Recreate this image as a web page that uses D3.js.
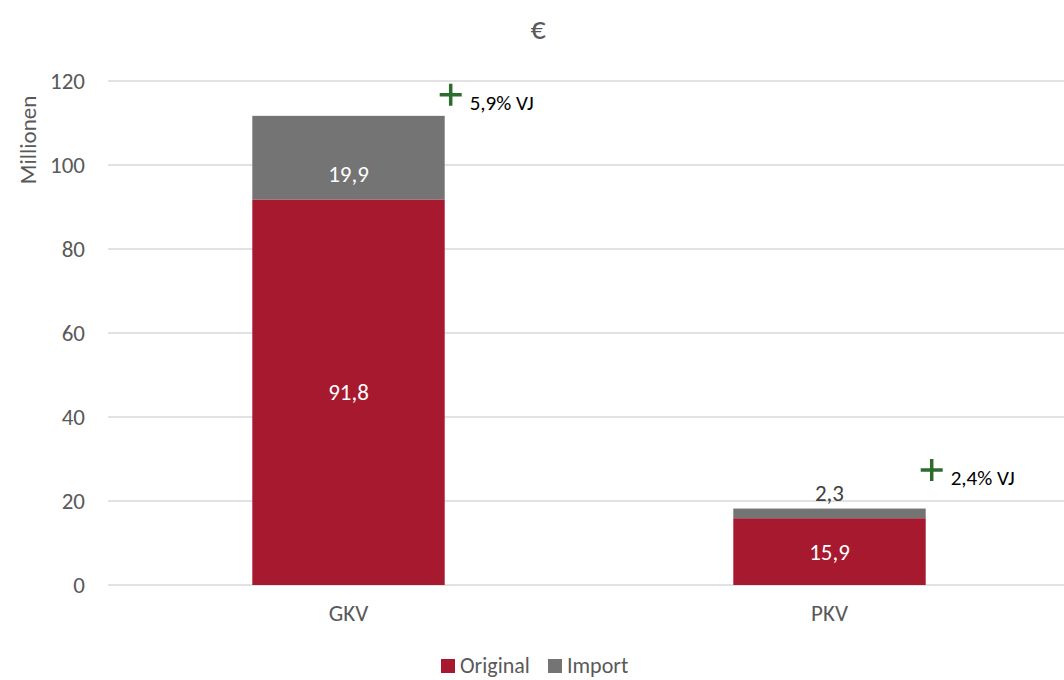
<!DOCTYPE html>
<html>
<head>
<meta charset="utf-8">
<script src="https://cdn.jsdelivr.net/npm/d3@7"></script>
<style>
  body { margin: 0; background: #fff; }
  svg { display: block; font-family: Carlito, Lato, "Open Sans", sans-serif; }
</style>
</head>
<body>
<svg width="1064" height="680"></svg>
<script>
var categories = ["GKV", "PKV"];
var originalValues = [91.8, 15.9];
var importValues = [19.9, 2.3];
var changeLabels = ["5,9% VJ", "2,4% VJ"];
var changeAnchor = [116.7, 27.4];   // value where the green plus sits
var yTicks = [0, 20, 40, 60, 80, 100, 120];
var seriesNames = ["Original", "Import"];
var colors = ["#A6192E", "#747474"];

var svg = d3.select("svg"),
    margin = {top: 81, right: -6, bottom: 95, left: 108},
    width = +svg.attr("width") - margin.left - margin.right,
    height = +svg.attr("height") - margin.top - margin.bottom,
    g = svg.append("g").attr("transform", "translate(" + margin.left + "," + margin.top + ")");

var fmt = function(v) { return String(v).replace(".", ","); };

var x = d3.scaleBand()
    .domain(categories)
    .range([0, width])
    .padding(0);

var y = d3.scaleLinear()
    .domain([0, 120])
    .range([height, 0]);

var barW = x.bandwidth() * 0.4;

// gridlines
g.append("g")
  .selectAll("line")
  .data(yTicks)
  .enter().append("line")
    .attr("x1", 0)
    .attr("x2", width)
    .attr("y1", function(d) { return y(d); })
    .attr("y2", function(d) { return y(d); })
    .attr("stroke", "#d9d9d9")
    .attr("stroke-width", 1.5);

// y axis labels
g.append("g")
    .call(d3.axisLeft(y).tickValues(yTicks).tickSize(0).tickPadding(23))
    .call(function(a) { a.select(".domain").remove(); })
    .selectAll("text")
    .attr("font-size", "23px")
    .attr("font-family", "Carlito, Lato, sans-serif")
    .attr("fill", "#595959");

// x axis labels
g.append("g")
    .attr("transform", "translate(0," + height + ")")
    .call(d3.axisBottom(x).tickSize(0).tickPadding(20))
    .call(function(a) { a.select(".domain").remove(); })
    .selectAll("text")
    .attr("font-size", "23px")
    .attr("font-family", "Carlito, Lato, sans-serif")
    .attr("fill", "#595959");

var rows = categories.map(function(c, i) {
  return {cat: c, orig: originalValues[i], imp: importValues[i], label: changeLabels[i], anchor: changeAnchor[i]};
});

var bars = g.selectAll(".bar").data(rows).enter().append("g")
    .attr("transform", function(d) { return "translate(" + (x(d.cat) + x.bandwidth() / 2 - barW / 2) + ",0)"; });

bars.append("rect")
    .attr("y", function(d) { return y(d.orig); })
    .attr("width", barW)
    .attr("height", function(d) { return y(0) - y(d.orig); })
    .attr("fill", colors[0]);

bars.append("rect")
    .attr("y", function(d) { return y(d.orig + d.imp); })
    .attr("width", barW)
    .attr("height", function(d) { return y(d.orig) - y(d.orig + d.imp); })
    .attr("fill", colors[1]);

bars.append("text")
    .attr("x", barW / 2)
    .attr("y", function(d) { return y(d.orig / 2); })
    .attr("dy", "0.35em")
    .attr("text-anchor", "middle")
    .attr("font-size", "23px")
    .attr("fill", "#fff")
    .text(function(d) { return fmt(d.orig); });

bars.append("text")
    .attr("x", barW / 2)
    .attr("y", function(d) {
      var h = y(d.orig) - y(d.orig + d.imp);
      return h > 30 ? y(d.orig + d.imp / 2) + 16 : y(d.orig + d.imp) - 16;
    })
    .attr("dy", "0.35em")
    .attr("text-anchor", "middle")
    .attr("font-size", "23px")
    .attr("fill", function(d) { return (y(d.orig) - y(d.orig + d.imp)) > 30 ? "#fff" : "#404040"; })
    .text(function(d) { return fmt(d.imp); });

// growth annotations
var ann = bars.append("g")
    .attr("transform", function(d) { return "translate(" + (barW - 5) + "," + y(d.anchor) + ")"; });

ann.append("path")
    .attr("d", "M0,0H22M11,-11V11")
    .attr("stroke", "#2E6B2E")
    .attr("stroke-width", 3.5);

ann.append("text")
    .attr("x", 30)
    .attr("y", 8)
    .attr("dy", "0.35em")
    .attr("font-size", "21px")
    .attr("fill", "#000")
    .text(function(d) { return d.label; });

// title
svg.append("text")
    .attr("x", 538)
    .attr("y", 28)
    .attr("dy", "0.35em")
    .attr("text-anchor", "middle")
    .attr("font-size", "30px")
    .attr("fill", "#595959")
    .text("€");

// y axis title
svg.append("text")
    .attr("transform", "translate(28,140) rotate(-90)")
    .attr("dy", "0.35em")
    .attr("text-anchor", "middle")
    .attr("font-size", "23px")
    .attr("fill", "#595959")
    .text("Millionen");

// legend
var legend = svg.append("g").attr("transform", "translate(441,666)");
var offsets = [0, 107];
seriesNames.forEach(function(name, i) {
  var lg = legend.append("g").attr("transform", "translate(" + offsets[i] + ",0)");
  lg.append("rect")
      .attr("x", 0)
      .attr("y", -7)
      .attr("width", 14)
      .attr("height", 14)
      .attr("fill", colors[i]);
  lg.append("text")
      .attr("x", 19)
      .attr("dy", "0.33em")
      .attr("font-size", "22px")
      .attr("fill", "#595959")
      .text(name);
});
</script>
</body>
</html>
